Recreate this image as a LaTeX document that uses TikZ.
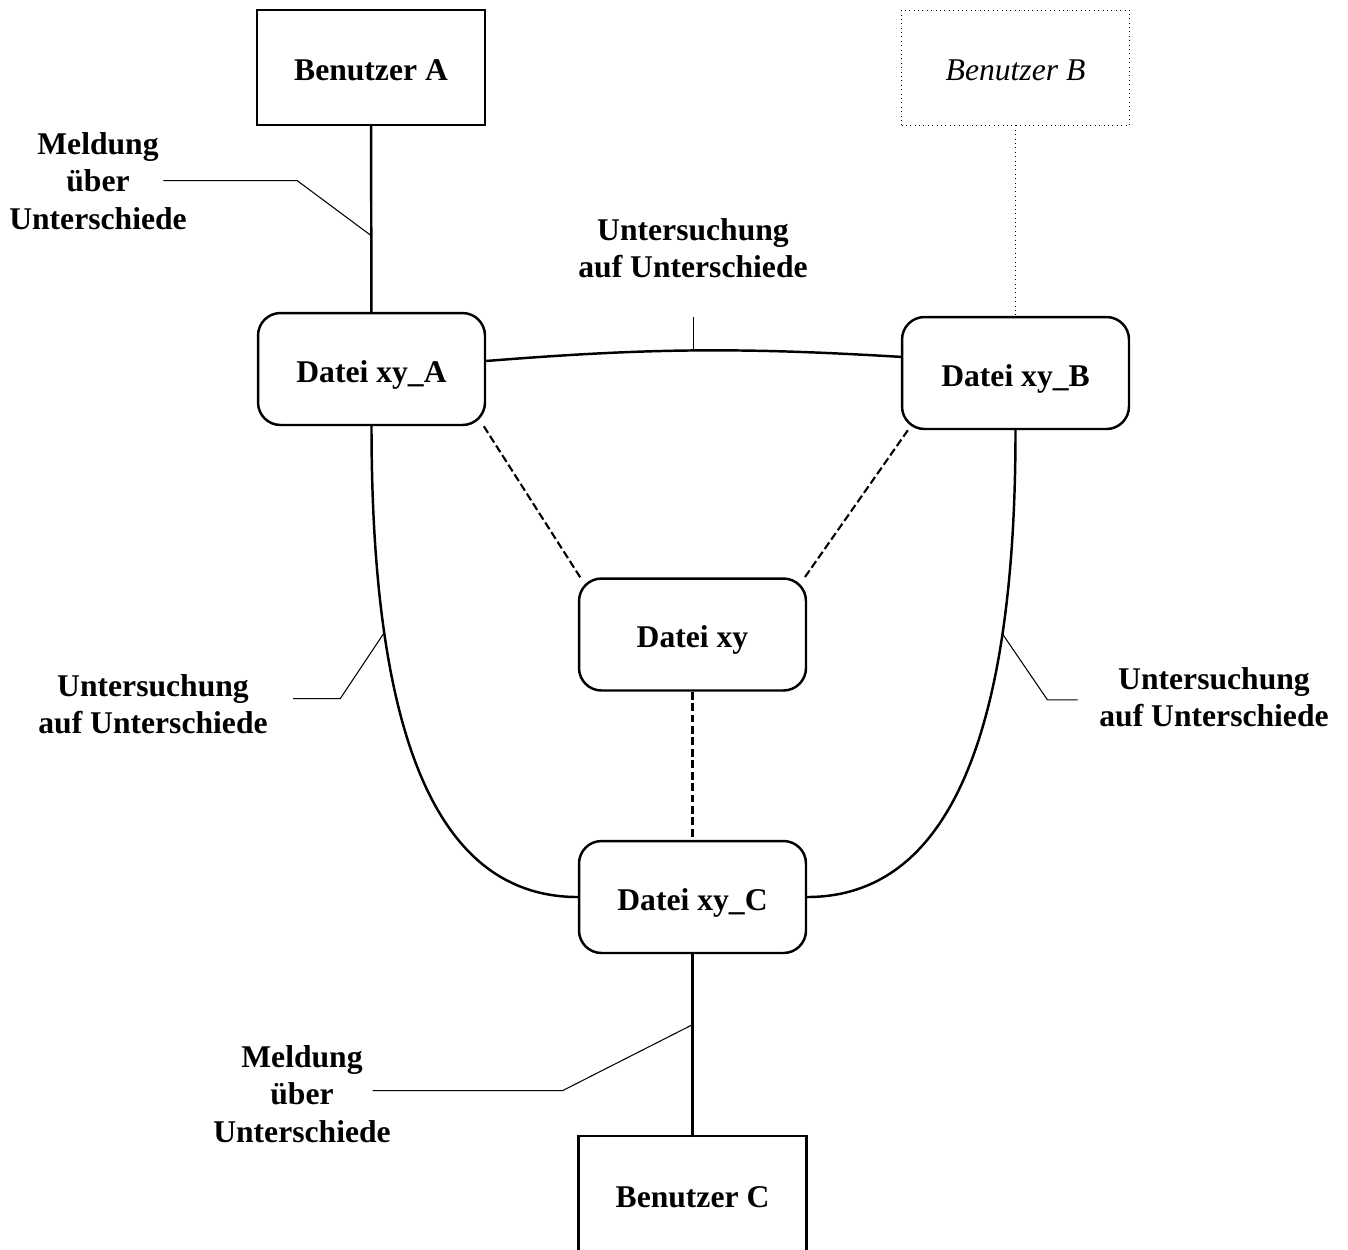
\documentclass[tikz,border=0pt]{standalone}
\usepackage{fontspec}
\setmainfont{Liberation Serif}
\begin{document}
\begin{tikzpicture}[x=0.02cm, y=-0.02cm,
  every node/.style={font=\fontsize{18}{21.3}\selectfont},
  user/.style={draw, line width=1.4pt, minimum width=4.56cm, minimum height=2.3cm, text height=0.62cm, text depth=0.1cm, font=\fontsize{18}{21.3}\selectfont\bfseries},
  file/.style={draw, line width=1.4pt, rounded corners=0.45cm, minimum width=4.54cm, minimum height=2.24cm, text height=0.62cm, text depth=0.1cm, font=\fontsize{18}{21.3}\selectfont\bfseries},
  lbl/.style={align=center, font=\fontsize{18}{21.3}\selectfont\bfseries},
  link/.style={line width=1.4pt},
  leader/.style={line width=0.6pt}]
  \useasboundingbox (0,0) rectangle (1348,1249);
  \node[user] (uA) at (371,67.5) {Benutzer A};
  \node[user, line width=0.5pt, dotted, font=\fontsize{18}{21.3}\selectfont\itshape] (uB) at (1015.5,67.5) {Benutzer B};
  \node[file] (fA) at (371.5,369) {Datei xy\_A};
  \node[file] (fB) at (1015.5,373) {Datei xy\_B};
  \node[file] (f0) at (692.5,634.5) {Datei xy};
  \node[file] (fC) at (692.5,897) {Datei xy\_C};
  \node[user, minimum height=2.32cm] (uC) at (692.5,1194) {Benutzer C};
  \node[lbl] (tA) at (98,181) {Meldung\\über\\Unterschiede};
  \node[lbl] (tAB) at (693,248) {Untersuchung\\auf Unterschiede};
  \node[lbl] (tAC) at (153,704) {Untersuchung\\auf Unterschiede};
  \node[lbl] (tBC) at (1214,697) {Untersuchung\\auf Unterschiede};
  \node[lbl] (tC) at (302,1094) {Meldung\\über\\Unterschiede};
  \draw[link] (uA) -- coordinate[pos=0.59] (mA) (fA);
  \draw[dotted, line width=0.5pt] (uB) -- (fB);
  \draw[link] (fA.4) to[bend left=4] coordinate[pos=0.5] (mAB) (fB.172);
  \draw[link] (fA.south) .. controls +(0,315) and +(-139,0) .. (fC.west) coordinate[pos=0.25] (mAC);
  \draw[link] (fB.south) .. controls +(0,310) and +(139,0) .. (fC.east) coordinate[pos=0.25] (mBC);
  \draw[link] (fC) -- coordinate[pos=0.39] (mC) (uC);
  \draw[link, line width=1.2pt, dash pattern=on 4.5pt off 2pt] (fA.-27) -- (f0.153);
  \draw[link, line width=1.2pt, dash pattern=on 4.5pt off 2pt] (fB.-152) -- (f0.27);
  \draw[link, line width=1.2pt, dash pattern=on 4.5pt off 2pt] (f0) -- (fC);
  \draw[leader] (mA) -- ++(-74,-55) -- ++(-134,0);
  \draw[leader] (mAB) -- ++(0,-33);
  \draw[leader] (mAC) -- ++(-44,66) -- ++(-47,0);
  \draw[leader] (mBC) -- ++(45,66) -- ++(30,0);
  \draw[leader] (mC) -- ++(-130,66) -- ++(-190,0);
\end{tikzpicture}
\end{document}
